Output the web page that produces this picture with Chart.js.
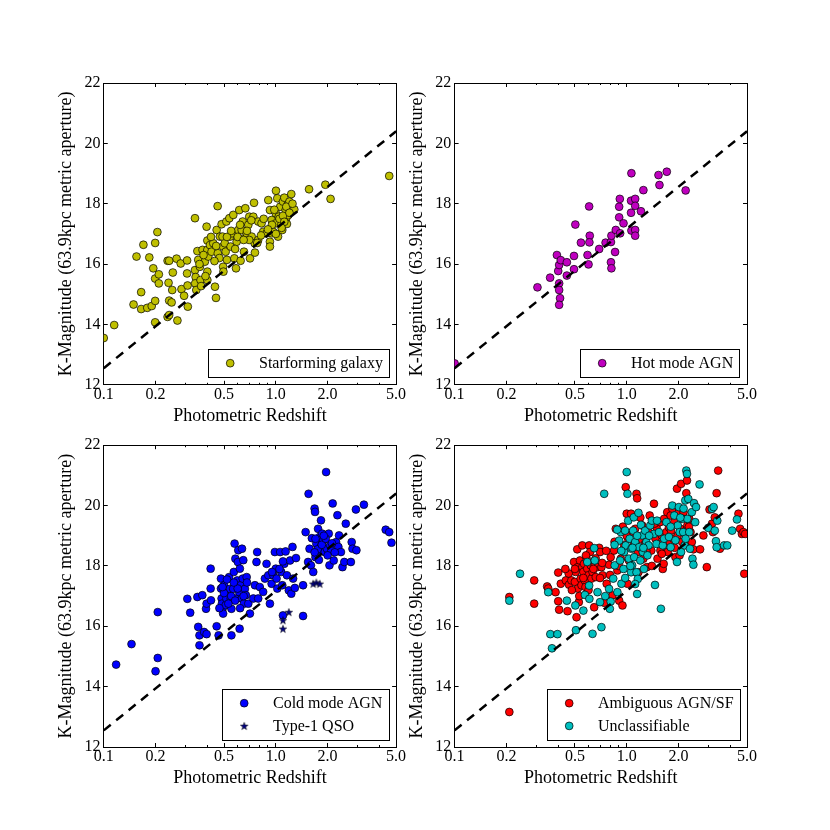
<!DOCTYPE html>
<html><head><meta charset="utf-8">
<script src="https://cdn.jsdelivr.net/npm/chart.js"></script>
<style>
html,body{margin:0;padding:0;background:#fff;}
#wrap{position:relative;width:830px;height:830px;background:#fff;}
canvas{position:absolute;left:0;top:0;}
</style></head><body>
<div id="wrap">
<canvas id="c1" width="830" height="830"></canvas>
<canvas id="c2" width="830" height="830"></canvas>
<canvas id="c3" width="830" height="830"></canvas>
<canvas id="c4" width="830" height="830"></canvas>
</div>
<script>
// ---- tick definitions ----
const xTickValues = [0.1, 0.2, 0.5, 1, 2, 5];
const xTickLabels = ['0.1', '0.2', '0.5', '1.0', '2.0', '5.0'];
const xMinorTicks = [0.3, 0.4, 0.6, 0.7, 0.8, 0.9, 3, 4];
const yTickValues = [12, 14, 16, 18, 20, 22];
const yTickLabels = ['12', '14', '16', '18', '20', '22'];

// ---- reference relation (dashed line) ----
const fitZ = [0.1, 5.0];
const fitK = [12.55, 20.4];

// ---- Starforming galaxy ----
const sfZ = [0.1,0.115,0.149,0.155,0.17,0.165,0.165,0.179,0.184,0.19,
0.194,0.199,0.199,0.199,0.199,0.205,0.209,0.209,0.235,0.24,
0.238,0.24,0.235,0.24,0.25,0.252,0.248,0.265,0.268,0.28,
0.283,0.293,0.305,0.305,0.307,0.308,0.339,0.339,0.342,0.34,
0.345,0.35,0.354,0.362,0.365,0.368,0.375,0.387,0.396,0.4,
0.4,0.4,0.4,0.405,0.414,0.423,0.433,0.443,0.449,0.459,
0.453,0.46,0.473,0.484,0.49,0.494,0.494,0.496,0.505,0.511,
0.516,0.52,0.537,0.542,0.546,0.556,0.566,0.574,0.587,0.592,
0.605,0.613,0.624,0.633,0.642,0.653,0.665,0.653,0.677,0.692,
0.701,0.708,0.724,0.74,0.747,0.753,0.756,0.79,0.79,0.826,
0.844,0.883,0.904,0.924,0.924,0.924,0.945,0.945,0.966,1.002,
1.0,1.0,1.02,1.03,1.04,1.06,1.075,1.09,1.10,1.12,
1.14,1.15,1.17,1.18,1.2,1.23,1.16,1.28,1.56,1.94,2.08,4.56,
0.38,0.42,0.45,0.47,0.52,0.55,0.6,0.62,0.68,0.7,
0.72,0.78,0.85,0.95,1.05,1.1,1.12,1.08,0.98,1.15,
0.36,0.39,0.44,0.58,0.65,0.9,1.0,0.82,1.2,1.25];
const sfK = [13.55,13.98,14.66,16.25,16.64,15.07,14.51,14.55,16.22,14.61,
15.86,16.7,15.52,14.78,14.07,17.06,15.66,15.36,16.11,16.11,
15.38,14.79,14.25,14.31,15.14,15.72,14.73,16.18,14.13,16.02,
15.17,14.95,16.12,15.69,15.29,14.59,17.52,15.8,15.57,15.36,
15.14,16.43,16.14,15.91,15.47,15.27,16.47,16.08,17.24,16.78,
16.47,15.75,15.47,16.25,16.63,16.41,16.69,15.25,14.88,17.92,
17.13,16.36,16.91,17.32,16.91,16.58,15.91,15.75,16.69,16.41,
17.41,16.14,17.52,16.91,16.58,17.02,17.63,16.19,15.86,16.74,
17.13,17.79,16.11,17.13,17.41,16.41,17.85,16.85,17.02,17.3,
17.57,16.19,16.91,17.57,18.03,16.69,16.38,17.41,16.8,17.35,
17.07,17.02,18.12,17.79,16.74,16.58,17.46,17.02,17.07,18.43,
17.68,17.35,18.18,16.91,17.57,17.9,17.3,17.13,18.07,18.2,
17.79,17.52,17.96,17.62,18.07,18.32,17.33,17.81,18.48,18.63,18.16,18.92,
16.3,16.9,16.6,16.2,16.9,17.1,16.9,17.3,17.1,16.8,
17.45,16.7,17.5,17.3,17.5,17.6,17.4,17.2,17.8,17.9,
16.0,15.6,16.1,16.5,16.8,17.15,17.0,16.95,17.7,18.0];

// ---- Hot mode AGN ----
const hotZ = [0.1,0.303,0.359,0.393,0.4,0.405,0.405,0.405,0.41,0.405,
0.414,0.449,0.449,0.494,0.494,0.503,0.542,0.592,0.6,0.605,
0.61,0.607,0.692,0.754,0.81,0.815,0.81,0.815,0.856,0.864,
0.904,0.904,0.912,0.916,0.958,1.06,1.065,1.06,1.065,1.12,
1.12,1.12,1.12,1.21,1.25,1.53,1.55,1.71,2.2];
const hotK = [12.71,15.23,15.55,16.3,15.77,15.97,15.36,15.14,14.87,14.65,
16.13,16.06,15.62,16.27,15.83,17.31,16.71,16.3,15.99,17.91,
16.94,16.72,16.5,16.71,16.06,15.86,16.73,16.94,16.4,17.13,
17.55,17.9,18.16,17.02,17.35,18.1,19.01,17.7,17.11,18.16,
17.93,17.13,16.94,17.75,18.45,18.95,18.62,19.06,18.44];

// ---- Cold mode AGN ----
const coldZ = [0.118,0.145,0.206,0.206,0.2,0.306,0.318,0.35,0.354,0.36,
0.36,0.374,0.383,0.393,0.396,0.396,0.418,0.418,0.42,0.453,
0.465,0.48,0.48,0.484,0.486,0.49,0.494,0.5,0.505,0.511,
0.516,0.535,0.54,0.547,0.552,0.552,0.565,0.57,0.576,0.582,
0.59,0.597,0.602,0.605,0.613,0.616,0.618,0.624,0.633,0.636,
0.642,0.647,0.652,0.661,0.67,0.677,0.692,0.707,0.74,0.756,
0.772,0.779,0.79,0.807,0.844,0.864,0.883,0.904,0.924,0.945,
0.966,0.987,1.0,1.01,1.02,1.06,1.075,1.09,1.1,1.12,
1.14,1.16,1.19,1.21,1.23,1.25,1.26,1.29,1.31,1.44,
1.44,1.49,1.54,1.55,1.57,1.6,1.62,1.65,1.68,1.69,
1.7,1.72,1.76,1.78,1.8,1.83,1.84,1.86,1.89,1.92,
1.96,1.98,2.03,2.05,2.07,2.1,2.14,2.17,2.24,2.28,
2.31,2.33,2.39,2.44,2.5,2.55,2.73,2.76,2.79,2.92,
2.94,3.25,4.35,4.56,4.7,
0.52,0.55,0.58,0.5,0.47,0.6,0.62,0.57,0.53,0.49,
0.65,0.68,1.05,1.1,0.95,1.7,1.75,1.85,1.95,2.0,
2.2,1.9,1.68,2.12,1.78];
const coldK = [14.73,15.41,16.47,14.95,14.51,16.91,16.45,16.97,15.98,15.7,
15.37,17.03,15.81,16.58,15.74,16.75,17.91,17.25,16.86,16.0,
15.7,17.58,17.25,16.92,16.75,16.58,16.42,17.36,17.14,16.7,
16.92,17.63,17.24,16.92,16.58,15.7,17.24,17.8,18.74,18.24,
16.92,17.52,18.13,18.52,17.13,15.92,17.91,17.36,16.92,18.57,
17.58,18.19,16.75,17.24,17.03,17.63,16.75,16.42,16.92,17.36,
18.13,18.46,16.92,17.3,17.14,17.58,18.07,17.69,16.75,17.41,
17.69,18.46,17.91,17.58,17.25,18.46,17.8,17.36,16.36,18.07,
18.48,17.69,17.19,18.18,17.08,18.63,17.58,17.27,18.26,17.36,
16.34,19.12,18.13,20.39,18.57,18.02,18.92,17.8,19.9,19.79,
18.29,18.74,19.23,18.52,18.96,19.51,18.68,19.07,18.85,18.46,
21.11,18.57,19.07,18.02,18.68,18.52,20.07,18.18,18.79,19.68,
18.63,19.01,18.46,17.96,18.13,19.4,18.13,18.79,18.57,19.87,
18.52,20.03,19.2,19.12,18.77,
17.55,17.0,16.85,17.1,16.6,17.25,16.6,17.45,16.75,17.3,
17.0,17.45,17.9,18.15,17.8,18.9,18.55,18.7,18.9,18.35,
18.45,19.0,18.45,18.75,18.2];

// ---- Type-1 QSO ----
const qsoZ = [1.1, 1.1, 1.19, 1.65, 1.72, 1.8];
const qsoK = [16.2, 15.92, 16.47, 17.41, 17.45, 17.41];

// ---- Ambiguous AGN/SF ----
const ambZ = [0.208,0.208,0.29,0.29,0.345,0.35,0.386,0.4,0.4,0.405,
0.414,0.443,0.453,0.462,0.477,0.494,0.5,0.505,0.511,0.516,
0.52,0.52,0.527,0.535,0.54,0.546,0.552,0.552,0.56,0.565,
0.57,0.576,0.585,0.59,0.6,0.605,0.613,0.618,0.624,0.633,
0.647,0.652,0.661,0.677,0.692,0.7,0.713,0.724,0.74,0.765,
0.79,0.807,0.826,0.844,0.864,0.883,0.904,0.924,0.945,0.966,
0.987,1.0,1.01,1.02,1.03,1.06,1.075,1.1,1.12,1.14,
1.15,1.16,1.17,1.2,1.23,1.25,1.28,1.31,1.34,1.36,
1.39,1.44,1.47,1.49,1.51,1.54,1.56,1.57,1.6,1.62,
1.64,1.65,1.68,1.7,1.72,1.73,1.76,1.78,1.8,1.81,
1.84,1.87,1.89,1.92,1.96,1.98,2.01,2.03,2.05,2.07,
2.1,2.14,2.19,2.22,2.24,2.25,2.28,2.31,2.35,2.39,
2.44,2.67,2.79,2.92,3.03,3.13,3.17,3.25,3.33,3.4,
3.48,4.46,4.56,4.67,4.77,4.82,4.88,
0.46,0.48,0.53,0.56,0.6,0.64,0.58,0.66,0.7,0.72,
0.5,0.44,0.76,0.8,0.85,0.9,1.3,1.4,1.45,1.6,
1.9,2.3,1.2,1.0,0.95];
const ambK = [16.97,13.16,17.52,16.75,17.32,17.25,17.13,17.78,16.83,16.55,
17.41,17.52,16.5,17.38,17.52,18.13,17.47,17.8,16.3,18.55,
17.96,17.25,16.8,18.18,17.58,17.36,18.68,17.96,17.8,18.07,
17.52,17.3,18.24,17.91,17.69,18.68,18.46,18.02,17.58,17.8,
16.63,18.02,17.63,17.96,18.6,18.46,17.96,17.69,16.78,17.41,
18.04,18.29,17.02,18.51,19.23,17.85,16.85,18.24,16.69,18.68,
20.61,19.73,17.41,18.9,18.18,19.73,19.12,18.68,19.23,20.39,
20.24,18.46,17.79,18.9,19.34,18.24,18.73,17.96,19.12,19.67,
18.51,20.06,18.9,19.28,18.24,18.73,19.45,18.51,19.01,17.9,
18.07,19.56,18.68,19.12,19.78,18.46,19.28,18.79,19.67,19.17,
19.9,18.9,19.45,18.29,20.56,19.01,19.78,18.35,19.23,20.72,
18.79,19.78,19.12,20.41,20.83,19.34,18.68,19.56,19.12,18.79,
18.55,18.55,19.01,17.96,19.87,19.4,19.12,19.61,20.41,21.16,
18.57,19.73,19.23,19.06,19.12,17.74,19.06,
17.75,17.2,17.0,17.6,17.2,17.9,18.35,18.25,17.6,18.1,
17.9,17.9,18.5,17.7,18.8,18.0,18.5,18.0,19.4,18.4,
18.6,19.3,19.6,19.0,19.3];

// ---- Unclassifiable ----
const uncZ = [0.208,0.24,0.35,0.36,0.368,0.396,0.449,0.503,0.507,0.56,
0.59,0.572,0.605,0.607,0.633,0.647,0.652,0.677,0.7,0.713,
0.74,0.79,0.798,0.807,0.835,0.852,0.883,0.904,0.916,0.924,
0.932,0.958,0.966,0.979,0.987,1.0,1.01,1.02,1.03,1.04,
1.06,1.065,1.075,1.09,1.1,1.105,1.12,1.14,1.15,1.16,
1.17,1.18,1.2,1.21,1.23,1.24,1.26,1.28,1.3,1.32,
1.34,1.37,1.4,1.44,1.46,1.49,1.54,1.58,1.62,1.65,
1.7,1.76,1.8,1.84,1.89,1.92,1.96,1.98,2.01,2.03,
2.07,2.1,2.13,2.14,2.17,2.19,2.22,2.24,2.25,2.28,
2.31,2.33,2.39,2.41,2.44,2.46,2.5,2.53,2.65,2.98,
3.13,3.2,3.25,3.3,3.33,3.36,3.68,3.84,4.1,4.37,
0.85,0.88,0.93,1.08,1.15,1.25,1.35,1.5,1.8,2.05,
2.2,0.98,1.05,1.12,0.75];
const uncK = [16.85,17.74,17.13,15.74,15.27,15.74,16.85,16.69,15.87,16.52,
18.13,17.04,17.35,16.91,15.75,18.59,18.18,17.13,16.8,15.97,
20.39,17.24,16.58,16.82,17.58,18.02,17.13,18.84,18.18,19.12,
17.41,17.9,18.46,19.17,18.68,21.11,20.39,19.5,18.24,18.9,
17.79,18.57,18.02,19.17,19.61,18.29,18.79,17.79,17.07,17.57,
19.76,18.62,18.18,19.36,19.01,18.46,17.9,19.17,18.79,18.35,
18.68,19.34,19.5,19.06,17.37,18.73,19.12,16.58,18.68,18.9,
19.45,18.96,18.62,20.0,19.67,18.85,18.13,19.34,19.95,19.12,
18.46,19.56,19.12,19.9,18.68,20.17,21.16,21.05,19.56,20.22,
19.12,18.57,19.78,18.24,18.04,20.08,19.45,19.95,20.7,19.26,
19.89,19.95,19.17,18.82,18.62,19.5,18.68,18.68,19.17,19.54,
18.7,19.2,18.5,18.6,19.0,18.6,19.0,19.5,19.3,19.6,
18.9,17.6,18.0,17.4,17.0];

// ---- styling ----
const SERIF = '"Liberation Serif","Times New Roman",Times,serif';
Chart.defaults.font.family = SERIF;
Chart.defaults.color = '#000';
const tickFont = {family: SERIF, size: 16, lineHeight: 1.2};
const titleFont = {family: SERIF, size: 18, lineHeight: 1.2};

function makeStar(fill) {
  const c = document.createElement('canvas');
  c.width = 10; c.height = 10;
  const g = c.getContext('2d');
  g.beginPath();
  for (let i = 0; i < 10; i++) {
    const r = (i % 2) ? 1.6 : 4.0;
    const a = -Math.PI / 2 + i * Math.PI / 5;
    g.lineTo(5 + r * Math.cos(a), 5.4 + r * Math.sin(a));
  }
  g.closePath();
  g.fillStyle = fill; g.fill();
  g.lineWidth = 0.5; g.strokeStyle = '#000'; g.stroke();
  return c;
}
const starImg = makeStar('#000080');

function pts(zs, ks) { return zs.map((z, i) => ({x: z, y: ks[i]})); }
function fixSize(prop, val) {
  return s => { s[prop] = val; s.paddingTop = 0; s.paddingBottom = 0; s.paddingLeft = 0; s.paddingRight = 0; };
}
function useTicks(vals) { return s => { s.ticks = vals.map(v => ({value: v})); }; }

function axisX(pos, weight, vals, len, withLabels, withBorder) {
  const o = {
    type: 'logarithmic', position: pos, weight: weight, min: 0.1, max: 5, bounds: 'data', z: 1,
    afterBuildTicks: useTicks(vals), afterFit: fixSize('height', withLabels ? 50 : 0),
    border: {display: withBorder, color: '#000', width: 1},
    grid: {display: true, drawOnChartArea: false, drawTicks: true, tickLength: -len, tickColor: '#000', tickWidth: 1},
    ticks: {display: withLabels, autoSkip: false, maxRotation: 0, minRotation: 0, padding: 4, color: '#000', font: tickFont,
            callback: withLabels ? ((v, i) => xTickLabels[i]) : (() => '')}
  };
  if (withLabels) o.title = {display: true, text: 'Photometric Redshift', color: '#000', font: titleFont, padding: {top: 0, bottom: 8}};
  return o;
}
function axisY(pos, withLabels) {
  const o = {
    type: 'linear', position: pos, min: 12, max: 22, z: 1,
    afterBuildTicks: useTicks(yTickValues), afterFit: fixSize('width', withLabels ? 60 : 0),
    border: {display: true, color: '#000', width: 1},
    grid: {display: true, drawOnChartArea: false, drawTicks: true, tickLength: -4, tickColor: '#000', tickWidth: 1},
    ticks: {display: withLabels, padding: 7.25, color: '#000', font: tickFont, callback: (v, i) => yTickLabels[i]}
  };
  if (withLabels) o.title = {display: true, text: 'K-Magnitude (63.9kpc metric aperture)', color: '#000', font: titleFont, padding: {top: 12, bottom: 0}};
  return o;
}

// legend box drawn inside the plot area, lower right
const boxLegend = {
  id: 'boxLegend',
  afterDatasetsDraw(chart) {
    const items = chart.data.datasets.filter(d => d.inLegend);
    if (!items.length) return;
    const ctx = chart.ctx, a = chart.chartArea;
    const fs = 16, pad = 6.2, pitch = 22.7;
    ctx.save();
    ctx.font = fs + 'px ' + SERIF;
    const tw = Math.max(...items.map(d => ctx.measureText(d.label).width));
    const w = pad + 2 * fs + 0.8 * fs + tw + pad;
    const h = 2 * pad + fs + (items.length - 1) * pitch;
    const x0 = Math.round(a.right - 7.3 - w), y0 = Math.round(a.bottom - 7.3 - h);
    ctx.fillStyle = '#fff';
    ctx.fillRect(x0, y0, w, h);
    ctx.strokeStyle = '#000'; ctx.lineWidth = 1;
    ctx.strokeRect(x0 + 0.5, y0 + 0.5, Math.round(w), Math.round(h));
    items.forEach((d, i) => {
      const cy = y0 + pad + fs / 2 + i * pitch;
      const mx = x0 + pad + fs;
      ctx.fillStyle = d.backgroundColor; ctx.strokeStyle = d.borderColor; ctx.lineWidth = d.borderWidth;
      Chart.helpers.drawPoint(ctx, {pointStyle: d.pointStyle, radius: d.pointRadius, borderWidth: d.borderWidth, rotation: 0}, mx, cy);
      ctx.fillStyle = '#000'; ctx.textAlign = 'left'; ctx.textBaseline = 'middle';
      ctx.fillText(d.label, x0 + pad + 2.8 * fs, cy + 0.5);
    });
    ctx.restore();
  }
};

const panels = [
  {id: 'c1', box: [103.75, 83, 396.1, 384.8], series: [
    {label: 'Starforming galaxy', z: sfZ, k: sfK, color: '#bfbf00', style: 'circle', r: 3.9, order: 1}]},
  {id: 'c2', box: [454.6, 83, 747, 384.8], series: [
    {label: 'Hot mode AGN', z: hotZ, k: hotK, color: '#bf00bf', style: 'circle', r: 3.9, order: 1}]},
  {id: 'c3', box: [103.75, 445.2, 396.1, 747], series: [
    {label: 'Cold mode AGN', z: coldZ, k: coldK, color: '#0000ff', style: 'circle', r: 3.9, order: 1},
    {label: 'Type-1 QSO', z: qsoZ, k: qsoK, color: '#000080', style: starImg, r: 3, order: 0}]},
  {id: 'c4', box: [454.6, 445.2, 747, 747], series: [
    {label: 'Ambiguous AGN/SF', z: ambZ, k: ambK, color: '#ff0000', style: 'circle', r: 3.9, order: 1},
    {label: 'Unclassifiable', z: uncZ, k: uncK, color: '#00bfbf', style: 'circle', r: 3.9, order: 0}]}
];

panels.forEach(p => {
  const [L, T, R, B] = p.box;
  const datasets = p.series.map(s => ({
    label: s.label, inLegend: true, data: pts(s.z, s.k),
    backgroundColor: s.color, borderColor: '#000', borderWidth: 0.7,
    pointRadius: s.r, pointHoverRadius: s.r, pointStyle: s.style, order: s.order, clip: 0
  }));
  datasets.push({
    type: 'line', label: 'fit', inLegend: false, data: pts(fitZ, fitK),
    borderColor: '#000', borderWidth: 2.5, borderDash: [9, 7], pointRadius: 0, fill: false,
    showLine: true, tension: 0, order: -1, clip: 0
  });
  new Chart(document.getElementById(p.id), {
    type: 'scatter',
    data: {datasets},
    plugins: [boxLegend],
    options: {
      responsive: false, animation: false, events: [],
      layout: {padding: {left: L - 60, right: 830 - R, top: T, bottom: 830 - B - 50}},
      plugins: {legend: {display: false}, tooltip: {enabled: false}},
      scales: {
        x: axisX('bottom', 1, xTickValues, 4, true, true),
        xm: axisX('bottom', 0, xMinorTicks, 2, false, false),
        xt: axisX('top', 1, xTickValues, 4, false, true),
        xtm: axisX('top', 0, xMinorTicks, 2, false, false),
        y: axisY('left', true),
        yr: axisY('right', false)
      }
    }
  });
});
</script>
</body></html>
